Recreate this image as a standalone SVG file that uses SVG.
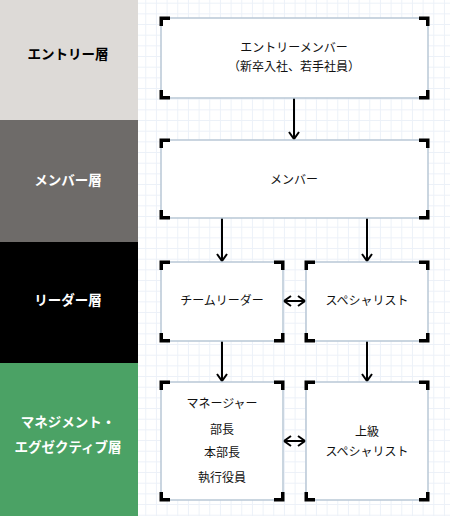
<svg xmlns="http://www.w3.org/2000/svg" xmlns:xlink="http://www.w3.org/1999/xlink" width="450" height="516" viewBox="0 0 450 516">
<style>
.band-label{font-family:"Noto Sans CJK JP","Noto Sans",sans-serif;font-size:13.5px;font-weight:bold;text-anchor:middle}
.t{font-family:"Noto Sans CJK JP","Noto Sans",sans-serif;font-size:12px;fill:#111;text-anchor:middle}
.box{fill:#fff;stroke:#b9c8d6;stroke-width:1.5}
.conn{stroke:#000;stroke-width:2;fill:none}
</style>
<defs>
<pattern id="grid" patternUnits="userSpaceOnUse" x="6.6" y="2.7" width="10.667" height="10.667">
<path d="M0,0.5 H10.667 M0.5,0 V10.667" stroke="#ecf1f8" stroke-width="1" fill="none"/>
</pattern>
<path id="c" d="M-1.5,-1.5 H9 V2 H2 V8 H-1.5 Z" fill="#000"/>
<marker id="ah" viewBox="0 0 12 12" refX="10" refY="6" markerWidth="12" markerHeight="12" markerUnits="userSpaceOnUse" orient="auto-start-reverse">
<path d="M3,1 L10,6 L3,11" fill="none" stroke="#000" stroke-width="2"/>
</marker>
</defs>
<rect x="138" y="0" width="312" height="516" fill="#fff"/>
<rect x="138" y="0" width="312" height="516" fill="url(#grid)"/>

<g id="bands">
<rect x="0" y="0" width="138" height="120" fill="#dddad7"/>
<rect x="0" y="120" width="138" height="122" fill="#6e6b69"/>
<rect x="0" y="242" width="138" height="121" fill="#000"/>
<rect x="0" y="363" width="138" height="153" fill="#4ba265"/>
<text class="band-label" x="68" y="59" fill="#000">エントリー層</text>
<text class="band-label" x="68" y="185" fill="#fff">メンバー層</text>
<text class="band-label" x="68" y="305" fill="#fff">リーダー層</text>
<text class="band-label" x="68" y="427" fill="#fff">マネジメント・</text>
<text class="band-label" x="68" y="452" fill="#fff">エグゼクティブ層</text>
</g>

<g id="connectors">
<line class="conn" x1="294" y1="98" x2="294" y2="139" marker-end="url(#ah)"/>
<line class="conn" x1="222" y1="218" x2="222" y2="261" marker-end="url(#ah)"/>
<line class="conn" x1="367" y1="218" x2="367" y2="261" marker-end="url(#ah)"/>
<line class="conn" x1="222" y1="341" x2="222" y2="381" marker-end="url(#ah)"/>
<line class="conn" x1="367" y1="341" x2="367" y2="381" marker-end="url(#ah)"/>
<line class="conn" x1="284" y1="301" x2="305" y2="301" marker-start="url(#ah)" marker-end="url(#ah)"/>
<line class="conn" x1="284" y1="441" x2="305" y2="441" marker-start="url(#ah)" marker-end="url(#ah)"/>
</g>

<g id="entry-member">
<rect class="box" x="161" y="18" width="267" height="80"/>
<use xlink:href="#c" transform="translate(161,18)"/>
<use xlink:href="#c" transform="translate(428,18) scale(-1,1)"/>
<use xlink:href="#c" transform="translate(161,98) scale(1,-1)"/>
<use xlink:href="#c" transform="translate(428,98) scale(-1,-1)"/>
<text class="t" x="294" y="52">エントリーメンバー</text>
<text class="t" x="294" y="71">（新卒入社、若手社員）</text>
</g>

<g id="member">
<rect class="box" x="161" y="140" width="267" height="78"/>
<use xlink:href="#c" transform="translate(161,140)"/>
<use xlink:href="#c" transform="translate(428,140) scale(-1,1)"/>
<use xlink:href="#c" transform="translate(161,218) scale(1,-1)"/>
<use xlink:href="#c" transform="translate(428,218) scale(-1,-1)"/>
<text class="t" x="294" y="184">メンバー</text>
</g>

<g id="team-leader">
<rect class="box" x="161" y="262" width="122" height="79"/>
<use xlink:href="#c" transform="translate(161,262)"/>
<use xlink:href="#c" transform="translate(283,262) scale(-1,1)"/>
<use xlink:href="#c" transform="translate(161,341) scale(1,-1)"/>
<use xlink:href="#c" transform="translate(283,341) scale(-1,-1)"/>
<text class="t" x="222" y="305">チームリーダー</text>
</g>

<g id="specialist">
<rect class="box" x="306" y="262" width="122" height="79"/>
<use xlink:href="#c" transform="translate(306,262)"/>
<use xlink:href="#c" transform="translate(428,262) scale(-1,1)"/>
<use xlink:href="#c" transform="translate(306,341) scale(1,-1)"/>
<use xlink:href="#c" transform="translate(428,341) scale(-1,-1)"/>
<text class="t" x="367" y="305">スペシャリスト</text>
</g>

<g id="manager">
<rect class="box" x="161" y="382" width="122" height="118"/>
<use xlink:href="#c" transform="translate(161,382)"/>
<use xlink:href="#c" transform="translate(283,382) scale(-1,1)"/>
<use xlink:href="#c" transform="translate(161,500) scale(1,-1)"/>
<use xlink:href="#c" transform="translate(283,500) scale(-1,-1)"/>
<text class="t" x="222" y="408">マネージャー</text>
<text class="t" x="222" y="434">部長</text>
<text class="t" x="222" y="457">本部長</text>
<text class="t" x="222" y="482">執行役員</text>
</g>

<g id="senior-specialist">
<rect class="box" x="306" y="382" width="122" height="118"/>
<use xlink:href="#c" transform="translate(306,382)"/>
<use xlink:href="#c" transform="translate(428,382) scale(-1,1)"/>
<use xlink:href="#c" transform="translate(306,500) scale(1,-1)"/>
<use xlink:href="#c" transform="translate(428,500) scale(-1,-1)"/>
<text class="t" x="367" y="436">上級</text>
<text class="t" x="367" y="456">スペシャリスト</text>
</g>
</svg>
